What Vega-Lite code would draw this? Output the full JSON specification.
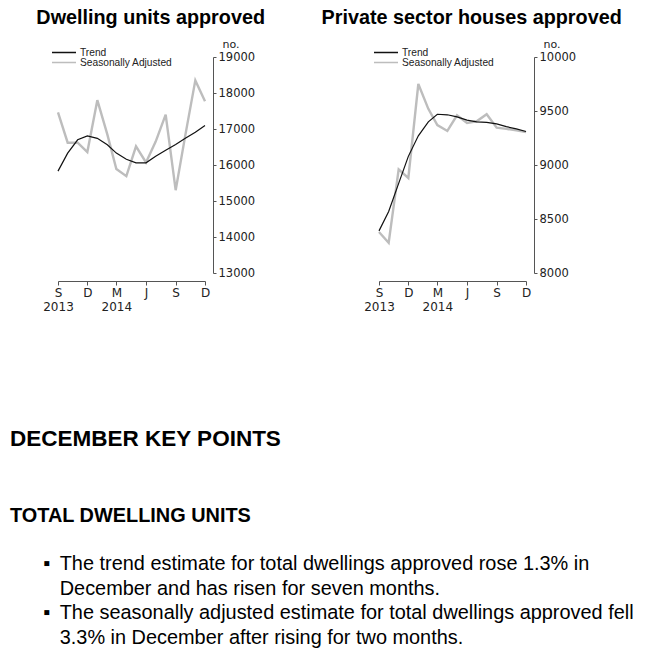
{
  "$schema": "https://vega.github.io/schema/vega-lite/v6.json",
  "padding": {"left": 10, "top": 8, "right": 0, "bottom": 0},
  "background": "white",
  "config": {
    "view": {"stroke": null},
    "font": "Liberation Sans",
    "axis": {"grid": false, "domainColor": "#555", "tickColor": "#555", "labelColor": "#222", "labelFont": "DejaVu Sans", "labelFontSize": 11.5, "titleFont": "DejaVu Sans", "titleColor": "#222", "labelFlush": false, "labelOverlap": false},
    "legend": {"labelFont": "Liberation Sans", "labelFontSize": 10.2, "labelColor": "#222"}
  },
  "datasets": {
    "dwellings": [
      {"date": "2013-09-01", "series": "Seasonally Adjusted", "value": 17460},
      {"date": "2013-10-01", "series": "Seasonally Adjusted", "value": 16620},
      {"date": "2013-11-01", "series": "Seasonally Adjusted", "value": 16620},
      {"date": "2013-12-01", "series": "Seasonally Adjusted", "value": 16360},
      {"date": "2014-01-01", "series": "Seasonally Adjusted", "value": 17800},
      {"date": "2014-02-01", "series": "Seasonally Adjusted", "value": 16850},
      {"date": "2014-03-01", "series": "Seasonally Adjusted", "value": 15890},
      {"date": "2014-04-01", "series": "Seasonally Adjusted", "value": 15690},
      {"date": "2014-05-01", "series": "Seasonally Adjusted", "value": 16520},
      {"date": "2014-06-01", "series": "Seasonally Adjusted", "value": 16070},
      {"date": "2014-07-01", "series": "Seasonally Adjusted", "value": 16650},
      {"date": "2014-08-01", "series": "Seasonally Adjusted", "value": 17400},
      {"date": "2014-09-01", "series": "Seasonally Adjusted", "value": 15300},
      {"date": "2014-10-01", "series": "Seasonally Adjusted", "value": 16830},
      {"date": "2014-11-01", "series": "Seasonally Adjusted", "value": 18350},
      {"date": "2014-12-01", "series": "Seasonally Adjusted", "value": 17770},
      {"date": "2013-09-01", "series": "Trend", "value": 15830},
      {"date": "2013-10-01", "series": "Trend", "value": 16330},
      {"date": "2013-11-01", "series": "Trend", "value": 16700},
      {"date": "2013-12-01", "series": "Trend", "value": 16810},
      {"date": "2014-01-01", "series": "Trend", "value": 16740},
      {"date": "2014-02-01", "series": "Trend", "value": 16560},
      {"date": "2014-03-01", "series": "Trend", "value": 16330},
      {"date": "2014-04-01", "series": "Trend", "value": 16160},
      {"date": "2014-05-01", "series": "Trend", "value": 16060},
      {"date": "2014-06-01", "series": "Trend", "value": 16060},
      {"date": "2014-07-01", "series": "Trend", "value": 16240},
      {"date": "2014-08-01", "series": "Trend", "value": 16410},
      {"date": "2014-09-01", "series": "Trend", "value": 16570},
      {"date": "2014-10-01", "series": "Trend", "value": 16740},
      {"date": "2014-11-01", "series": "Trend", "value": 16910},
      {"date": "2014-12-01", "series": "Trend", "value": 17100}
    ],
    "houses": [
      {"date": "2013-09-01", "series": "Seasonally Adjusted", "value": 8380},
      {"date": "2013-10-01", "series": "Seasonally Adjusted", "value": 8280},
      {"date": "2013-11-01", "series": "Seasonally Adjusted", "value": 8960},
      {"date": "2013-12-01", "series": "Seasonally Adjusted", "value": 8880},
      {"date": "2014-01-01", "series": "Seasonally Adjusted", "value": 9750},
      {"date": "2014-02-01", "series": "Seasonally Adjusted", "value": 9520},
      {"date": "2014-03-01", "series": "Seasonally Adjusted", "value": 9370},
      {"date": "2014-04-01", "series": "Seasonally Adjusted", "value": 9315},
      {"date": "2014-05-01", "series": "Seasonally Adjusted", "value": 9460},
      {"date": "2014-06-01", "series": "Seasonally Adjusted", "value": 9390},
      {"date": "2014-07-01", "series": "Seasonally Adjusted", "value": 9405},
      {"date": "2014-08-01", "series": "Seasonally Adjusted", "value": 9470},
      {"date": "2014-09-01", "series": "Seasonally Adjusted", "value": 9345},
      {"date": "2014-10-01", "series": "Seasonally Adjusted", "value": 9335},
      {"date": "2014-11-01", "series": "Seasonally Adjusted", "value": 9320},
      {"date": "2014-12-01", "series": "Seasonally Adjusted", "value": 9305},
      {"date": "2013-09-01", "series": "Trend", "value": 8390},
      {"date": "2013-10-01", "series": "Trend", "value": 8570},
      {"date": "2013-11-01", "series": "Trend", "value": 8830},
      {"date": "2013-12-01", "series": "Trend", "value": 9080},
      {"date": "2014-01-01", "series": "Trend", "value": 9270},
      {"date": "2014-02-01", "series": "Trend", "value": 9400},
      {"date": "2014-03-01", "series": "Trend", "value": 9470},
      {"date": "2014-04-01", "series": "Trend", "value": 9465},
      {"date": "2014-05-01", "series": "Trend", "value": 9445},
      {"date": "2014-06-01", "series": "Trend", "value": 9415},
      {"date": "2014-07-01", "series": "Trend", "value": 9400},
      {"date": "2014-08-01", "series": "Trend", "value": 9395},
      {"date": "2014-09-01", "series": "Trend", "value": 9380},
      {"date": "2014-10-01", "series": "Trend", "value": 9355},
      {"date": "2014-11-01", "series": "Trend", "value": 9335},
      {"date": "2014-12-01", "series": "Trend", "value": 9310}
    ]
  },
  "bounds": "flush",
  "spacing": 393,
  "vconcat": [
    {
      "bounds": "flush",
      "spacing": 174,
      "resolve": {"scale": {"x": "independent", "y": "independent", "color": "independent"}, "legend": {"color": "independent"}},
      "hconcat": [
        {
          "title": {"text": "Dwelling units approved", "frame": "bounds", "anchor": "middle", "dx": 2, "fontSize": 19.8, "fontWeight": "bold", "font": "Liberation Sans", "color": "#000", "offset": 10},
          "width": 147,
          "height": 216,
          "data": {"name": "dwellings"},
          "encoding": {
            "x": {"field": "date", "type": "temporal",
              "scale": {"type": "utc", "domain": [{"year": 2013, "month": 9, "date": 1, "utc": true}, {"year": 2014, "month": 12, "date": 1, "utc": true}], "nice": false},
              "axis": {"title": null, "offset": 8, "tickSize": 4, "labelPadding": 2, "labelLineHeight": 14, "labelFontSize": 12,
                "values": [{"year": 2013, "month": 9, "date": 1, "utc": true}, {"year": 2013, "month": 12, "date": 1, "utc": true}, {"year": 2014, "month": 3, "date": 1, "utc": true}, {"year": 2014, "month": 6, "date": 1, "utc": true}, {"year": 2014, "month": 9, "date": 1, "utc": true}, {"year": 2014, "month": 12, "date": 1, "utc": true}],
                "labelExpr": "[slice(utcFormat(datum.value, '%b'), 0, 1), (utcmonth(datum.value) == 8 && utcyear(datum.value) == 2013) || (utcmonth(datum.value) == 2 && utcyear(datum.value) == 2014) ? utcFormat(datum.value, '%Y') : '']"}},
            "y": {"field": "value", "type": "quantitative",
              "scale": {"domain": [13000, 19000], "nice": false, "zero": false},
              "axis": {"orient": "right", "offset": 8, "tickSize": 3, "labelPadding": 2, "values": [13000, 14000, 15000, 16000, 17000, 18000, 19000], "format": "d",
                "title": "no.", "titleAngle": 0, "titleAlign": "left", "titleBaseline": "bottom", "titleX": 9, "titleY": -8, "titleFontSize": 11, "titleFontWeight": "normal"}},
            "color": {"field": "series", "type": "nominal",
              "scale": {"domain": ["Trend", "Seasonally Adjusted"], "range": ["#111111", "#bdbdbd"]},
              "legend": {"orient": "none", "legendX": -7, "legendY": -9, "title": null, "symbolType": "stroke", "symbolSize": 576, "symbolStrokeWidth": 1.5, "clipHeight": 9, "rowPadding": -1, "padding": 0, "labelOffset": 3}}
          },
          "layer": [
            {"transform": [{"filter": "datum.series == 'Seasonally Adjusted'"}], "mark": {"type": "line", "strokeWidth": 2.4}},
            {"transform": [{"filter": "datum.series == 'Trend'"}], "mark": {"type": "line", "strokeWidth": 1.2}}
          ]
        },
        {
          "title": {"text": "Private sector houses approved", "frame": "bounds", "anchor": "middle", "dx": 2, "fontSize": 19.8, "fontWeight": "bold", "font": "Liberation Sans", "color": "#000", "offset": 10},
          "width": 147,
          "height": 216,
          "data": {"name": "houses"},
          "encoding": {
            "x": {"field": "date", "type": "temporal",
              "scale": {"type": "utc", "domain": [{"year": 2013, "month": 9, "date": 1, "utc": true}, {"year": 2014, "month": 12, "date": 1, "utc": true}], "nice": false},
              "axis": {"title": null, "offset": 8, "tickSize": 4, "labelPadding": 2, "labelLineHeight": 14, "labelFontSize": 12,
                "values": [{"year": 2013, "month": 9, "date": 1, "utc": true}, {"year": 2013, "month": 12, "date": 1, "utc": true}, {"year": 2014, "month": 3, "date": 1, "utc": true}, {"year": 2014, "month": 6, "date": 1, "utc": true}, {"year": 2014, "month": 9, "date": 1, "utc": true}, {"year": 2014, "month": 12, "date": 1, "utc": true}],
                "labelExpr": "[slice(utcFormat(datum.value, '%b'), 0, 1), (utcmonth(datum.value) == 8 && utcyear(datum.value) == 2013) || (utcmonth(datum.value) == 2 && utcyear(datum.value) == 2014) ? utcFormat(datum.value, '%Y') : '']"}},
            "y": {"field": "value", "type": "quantitative",
              "scale": {"domain": [8000, 10000], "nice": false, "zero": false},
              "axis": {"orient": "right", "offset": 8, "tickSize": 3, "labelPadding": 2, "values": [8000, 8500, 9000, 9500, 10000], "format": "d",
                "title": "no.", "titleAngle": 0, "titleAlign": "left", "titleBaseline": "bottom", "titleX": 9, "titleY": -8, "titleFontSize": 11, "titleFontWeight": "normal"}},
            "color": {"field": "series", "type": "nominal",
              "scale": {"domain": ["Trend", "Seasonally Adjusted"], "range": ["#111111", "#bdbdbd"]},
              "legend": {"orient": "none", "legendX": -6, "legendY": -9, "title": null, "symbolType": "stroke", "symbolSize": 576, "symbolStrokeWidth": 1.5, "clipHeight": 9, "rowPadding": -1, "padding": 0, "labelOffset": 3}}
          },
          "layer": [
            {"transform": [{"filter": "datum.series == 'Seasonally Adjusted'"}], "mark": {"type": "line", "strokeWidth": 2.4}},
            {"transform": [{"filter": "datum.series == 'Trend'"}], "mark": {"type": "line", "strokeWidth": 1.2}}
          ]
        }
      ]
    },
    {
      "bounds": "flush",
      "spacing": 197,
      "vconcat": [
        {
          "title": {"text": "DECEMBER KEY POINTS", "anchor": "start", "frame": "group", "dx": -48, "fontSize": 22.5, "fontWeight": "bold", "font": "Liberation Sans", "color": "#000", "offset": 0},
          "width": 560,
          "height": 1,
          "data": {"values": []},
          "mark": "point"
        },
        {
          "title": {"text": "TOTAL DWELLING UNITS", "anchor": "start", "frame": "group", "dx": -48, "fontSize": 19.9, "fontWeight": "bold", "font": "Liberation Sans", "color": "#000", "offset": 0,
            "subtitle": [
              "\u200b\u00a0\u00a0\u00a0\u00a0\u00a0\u00a0\u25aa\u00a0\u2009The trend estimate for total dwellings approved rose 1.3% in",
              "\u200b\u00a0\u00a0\u00a0\u00a0\u00a0\u00a0\u00a0\u00a0\u00a0December and has risen for seven months.",
              "\u200b\u00a0\u00a0\u00a0\u00a0\u00a0\u00a0\u25aa\u00a0\u2009The seasonally adjusted estimate for total dwellings approved fell",
              "\u200b\u00a0\u00a0\u00a0\u00a0\u00a0\u00a0\u00a0\u00a0\u00a03.3% in December after rising for two months."
            ],
            "subtitleFont": "Liberation Sans", "subtitleFontSize": 19.9, "subtitleColor": "#000", "subtitleLineHeight": 24.7, "subtitlePadding": 28},
          "width": 560,
          "height": 1,
          "data": {"values": []},
          "mark": "point"
        }
      ]
    }
  ]
}
